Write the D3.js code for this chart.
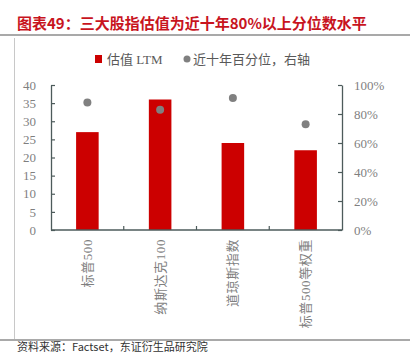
<!DOCTYPE html>
<html>
<head>
<meta charset="utf-8">
<script src="https://cdn.jsdelivr.net/npm/d3@7"></script>
<style>
  body { margin: 0; background: #fff; }
  svg { display: block; }
</style>
</head>
<body>
<div id="chart"></div>
<script>
// datos
var categorias = ["标普500", "纳斯达克100", "道琼斯指数", "标普500等权重"];
var valoracion = [27, 36, 24, 22];          // 估值 LTM (eje izquierdo)
var percentil = [0.88, 0.83, 0.91, 0.73];   // 近十年百分位 (eje derecho)
var ticksIzq = [0, 5, 10, 15, 20, 25, 30, 35, 40];
var ticksDer = [0, 0.2, 0.4, 0.6, 0.8, 1.0];

var W = 410, H = 354;
var margin = {top: 85, right: 68, bottom: 124, left: 51},
    width = W - margin.left - margin.right,
    height = H - margin.top - margin.bottom;

var serif = '"Liberation Serif", "Noto Sans CJK SC", serif';
var gris = "#808080";
var ejeColor = "#4d5b5b";

var svg = d3.select("#chart").append("svg")
    .attr("width", W)
    .attr("height", H);

// título y marco
svg.append("text")
    .attr("x", 17).attr("y", 29)
    .attr("fill", "#c8141e")
    .style("font-family", '"Noto Sans CJK SC", sans-serif')
    .style("font-size", "15px")
    .style("font-weight", "bold")
    .text("图表49：三大股指估值为近十年80%以上分位数水平");

svg.append("line").attr("x1", 0).attr("x2", W).attr("y1", 35).attr("y2", 35)
    .attr("stroke", "#8c8c8c").attr("stroke-width", 1.5);
svg.append("line").attr("x1", 14.5).attr("x2", 14.5).attr("y1", 38).attr("y2", 339)
    .attr("stroke", "#c8c8c8").attr("stroke-width", 1);
svg.append("line").attr("x1", 0).attr("x2", W).attr("y1", 340).attr("y2", 340)
    .attr("stroke", "#8c8c8c").attr("stroke-width", 1.5);

svg.append("text")
    .attr("x", 17).attr("y", 351)
    .attr("fill", "#333")
    .style("font-family", '"Noto Sans CJK SC", sans-serif')
    .style("font-size", "11px")
    .text("资料来源：Factset，东证衍生品研究院");

// leyenda
var ley = svg.append("g").attr("transform", "translate(0,59)");
ley.append("rect").attr("x", 95).attr("y", -4).attr("width", 7).attr("height", 8).attr("fill", "#cc0000");
ley.append("text").attr("x", 107).attr("y", 4.5)
    .attr("fill", "#595959")
    .style("font-family", serif).style("font-size", "13px")
    .text("估值 LTM");
ley.append("circle").attr("cx", 187).attr("cy", 0).attr("r", 3.5).attr("fill", gris);
ley.append("text").attr("x", 193).attr("y", 4.5)
    .attr("fill", "#595959")
    .style("font-family", serif).style("font-size", "13px")
    .text("近十年百分位，右轴");

var g = svg.append("g")
    .attr("transform", "translate(" + margin.left + "," + margin.top + ")");

// escalas
var x = d3.scaleBand().domain(categorias).range([0, width]).paddingInner(0).paddingOuter(0);
var y = d3.scaleLinear().domain([0, 40]).range([height, 0]);
var y2 = d3.scaleLinear().domain([0, 1]).range([height, 0]);

// barras
var bw = x.bandwidth() * 0.31;
g.selectAll(".bar").data(valoracion).enter().append("rect")
    .attr("class", "bar")
    .attr("x", function(d, i) { return x(categorias[i]) + x.bandwidth() / 2 - bw / 2; })
    .attr("y", function(d) { return y(d); })
    .attr("width", bw)
    .attr("height", function(d) { return height - y(d); })
    .attr("fill", "#cc0000");

// puntos
g.selectAll(".pt").data(percentil).enter().append("circle")
    .attr("class", "pt")
    .attr("cx", function(d, i) { return x(categorias[i]) + x.bandwidth() / 2; })
    .attr("cy", function(d) { return y2(d); })
    .attr("r", 4)
    .attr("fill", gris);

// ejes
function estilo(sel) {
  sel.select(".domain").attr("stroke", ejeColor).attr("stroke-width", 1.3);
  sel.selectAll(".tick line").attr("stroke", ejeColor).attr("stroke-width", 1.2);
  sel.selectAll("text")
    .attr("fill", "#7f7f7f")
    .style("font-family", serif)
    .style("font-size", "13px");
}

var ejeIzq = g.append("g")
    .call(d3.axisLeft(y).tickValues(ticksIzq).tickSize(-4).tickSizeOuter(0).tickPadding(15));
estilo(ejeIzq);

var ejeDer = g.append("g")
    .attr("transform", "translate(" + width + ",0)")
    .call(d3.axisRight(y2).tickValues(ticksDer).tickSize(-4).tickSizeOuter(0).tickPadding(12)
      .tickFormat(d3.format(".0%")));
estilo(ejeDer);

// eje x con marcas entre categorías
var ejeX = g.append("g")
    .attr("transform", "translate(0," + height + ")");
ejeX.append("line").attr("x1", 0).attr("x2", width)
    .attr("stroke", ejeColor).attr("stroke-width", 1.3);
ejeX.selectAll(".sep").data(categorias.slice(1)).enter().append("line")
    .attr("x1", function(d) { return x(d); })
    .attr("x2", function(d) { return x(d); })
    .attr("y1", 0).attr("y2", -4)
    .attr("stroke", ejeColor).attr("stroke-width", 1.2);
ejeX.selectAll(".lab").data(categorias).enter().append("text")
    .attr("transform", function(d) {
      return "translate(" + (x(d) + x.bandwidth() / 2 + 4.5) + ",9) rotate(-90)";
    })
    .attr("text-anchor", "end")
    .attr("fill", "#7f7f7f")
    .style("font-family", serif)
    .style("font-size", "13px")
    .style("letter-spacing", "0.6px")
    .text(function(d) { return d; });
</script>
</body>
</html>
